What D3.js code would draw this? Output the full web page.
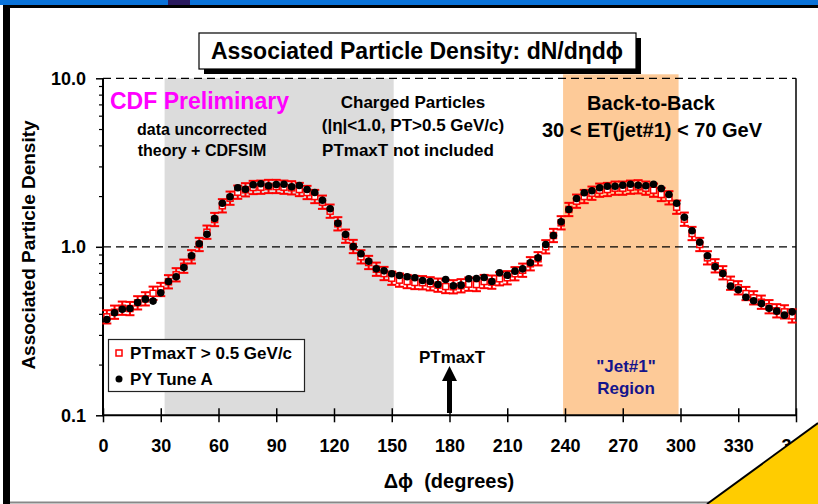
<!DOCTYPE html>
<html><head><meta charset="utf-8">
<script src="https://cdn.jsdelivr.net/npm/d3@7"></script>
<style>
body{margin:0;background:#fff}
svg{display:block}
text{font-family:"Liberation Sans",Arial,Helvetica,sans-serif;font-weight:bold}
</style>
</head><body>
<svg id="c" width="818" height="504"></svg>
<script>
// ---- data ----
const dphi = [2,6,10,14,18,22,26,30,34,38,42,46,50,54,58,62,66,70,74,78,
  82,86,90,94,98,102,106,110,114,118,122,126,130,134,138,142,146,150,154,158,
  162,166,170,174,178,182,186,190,194,198,202,206,210,214,218,222,226,230,234,238,
  242,246,250,254,258,262,266,270,274,278,282,286,290,294,298,302,306,310,314,318,
  322,326,330,334,338,342,346,350,354,358];
const dataVals = [0.384,0.409,0.432,0.430,0.465,0.491,0.530,0.558,0.620,0.682,
  0.767,0.872,1.032,1.221,1.452,1.751,1.943,2.109,2.179,2.249,
  2.258,2.280,2.280,2.258,2.239,2.188,2.100,1.988,1.839,1.627,
  1.369,1.156,1.004,0.872,0.807,0.736,0.694,0.651,0.634,0.622,
  0.614,0.612,0.603,0.592,0.581,0.579,0.587,0.600,0.597,0.622,
  0.617,0.646,0.655,0.692,0.726,0.793,0.849,1.000,1.167,1.388,
  1.665,1.865,1.988,2.080,2.167,2.188,2.228,2.228,2.258,2.270,
  2.228,2.167,2.044,1.953,1.718,1.458,1.199,1.032,0.860,0.771,
  0.701,0.608,0.571,0.528,0.498,0.469,0.441,0.417,0.411,0.389];
const pyVals = [0.370,0.406,0.426,0.430,0.467,0.489,0.476,0.533,0.622,0.664,
  0.754,0.884,1.042,1.188,1.472,1.815,1.980,2.239,2.197,2.333,
  2.365,2.301,2.343,2.353,2.270,2.311,2.188,2.100,1.890,1.681,
  1.380,1.183,1.004,0.909,0.821,0.740,0.720,0.692,0.676,0.664,
  0.655,0.631,0.622,0.597,0.640,0.587,0.592,0.646,0.648,0.657,
  0.622,0.701,0.678,0.717,0.740,0.804,0.860,1.032,1.167,1.407,
  1.665,1.934,2.092,2.149,2.239,2.289,2.289,2.320,2.353,2.320,
  2.301,2.353,2.218,2.044,1.815,1.498,1.245,1.065,0.884,0.761,
  0.694,0.584,0.556,0.502,0.478,0.461,0.432,0.415,0.393,0.411];
const errFactor = 1.095;   // multiplicative error on data points
const xTicks = [0,30,60,90,120,150,180,210,240,270,300,330,360];
const yMajor = [0.1,1,10];
const yMajorLabels = ["0.1","1.0","10.0"];
const yMinor = [0.2,0.3,0.4,0.5,0.6,0.7,0.8,0.9,2,3,4,5,6,7,8,9];
const bands = [{from:32,to:151,color:"#dcdcdc"},{from:239,to:299,color:"#fdca98"}];
const gridVals = [1,10];
const seriesNames = ["PTmaxT > 0.5 GeV/c","PY Tune A"];

// ---- layout ----
const svg = d3.select("#c");
const L=103, R=796, T=78.3, B=415.3;
const x = d3.scaleLinear().domain([0,360]).range([L,R]);
const y = d3.scaleLog().domain([0.1,10]).range([B,T]);
const F = "'Liberation Sans',Arial,sans-serif";

// frame decorations
svg.append("rect").attr("x",0).attr("y",0).attr("width",818).attr("height",5).attr("fill","#0a72d8");
svg.append("rect").attr("x",168).attr("y",0).attr("width",22).attr("height",5).attr("fill","#2a1a5e");
svg.append("rect").attr("x",3).attr("y",5).attr("width",815).attr("height",3).attr("fill","#000");
svg.append("rect").attr("x",3).attr("y",5).attr("width",7).attr("height",499).attr("fill","#000");
svg.append("line").attr("x1",10).attr("x2",818).attr("y1",502.5).attr("y2",502.5).attr("stroke","#888").attr("stroke-width",2);

// bands
bands.forEach((b,i)=>{
  svg.append("rect").attr("x",x(b.from)).attr("width",x(b.to)-x(b.from))
    .attr("y", i===1 ? T-4 : T).attr("height", B-(i===1 ? T-4 : T)).attr("fill",b.color);
});

// dashed gridlines
gridVals.forEach(v=>{
  svg.append("line").attr("x1",L).attr("x2",R).attr("y1",y(v)).attr("y2",y(v))
    .attr("stroke","#000").attr("stroke-width",1.2).attr("stroke-dasharray","8,5");
});

// axes
const xAxis = svg.append("g").attr("transform",`translate(0,${B})`)
  .call(d3.axisBottom(x).tickValues(xTicks).tickSizeInner(7).tickSizeOuter(0).tickPadding(0));
xAxis.select(".domain").remove();
xAxis.selectAll(".tick line").attr("y1",-7).attr("y2",7).attr("stroke","#000").attr("stroke-width",1.5);
xAxis.selectAll(".tick text").attr("y",30).attr("dy","0.36em").attr("font-size",18)
  .attr("font-family",F).attr("font-weight","bold").attr("fill","#000");

const yAxis = svg.append("g").attr("transform",`translate(${L},0)`)
  .call(d3.axisLeft(y).tickValues(yMajor).tickSizeInner(7).tickSizeOuter(0).tickPadding(10)
    .tickFormat((d,i)=>yMajorLabels[i]));
yAxis.select(".domain").remove();
yAxis.selectAll(".tick line").attr("stroke","#000").attr("stroke-width",1.5);
yAxis.selectAll(".tick text").attr("font-size",18).attr("font-family",F).attr("font-weight","bold").attr("fill","#000");
const yMin = svg.append("g").attr("transform",`translate(${L},0)`)
  .call(d3.axisLeft(y).tickValues(yMinor).tickSizeInner(4).tickSizeOuter(0).tickFormat(""));
yMin.select(".domain").remove();
yMin.selectAll(".tick line").attr("stroke","#000").attr("stroke-width",1.2);

// plot border lines
svg.append("line").attr("x1",L).attr("x2",L).attr("y1",T).attr("y2",B+1).attr("stroke","#000").attr("stroke-width",2);
svg.append("line").attr("x1",L).attr("x2",R).attr("y1",B).attr("y2",B).attr("stroke","#000").attr("stroke-width",2);
svg.append("line").attr("x1",R).attr("x2",R).attr("y1",T).attr("y2",B).attr("stroke","#000").attr("stroke-width",1.5);

// data: error bars + open squares
const g1 = svg.append("g");
dphi.forEach((d,i)=>{
  const v = dataVals[i], cx = x(d);
  const y1 = y(v*errFactor), y2 = y(v/errFactor);
  g1.append("line").attr("x1",cx).attr("x2",cx).attr("y1",y1).attr("y2",y2).attr("stroke","#ff0000").attr("stroke-width",2);
  g1.append("line").attr("x1",cx-4.5).attr("x2",cx+4.5).attr("y1",y1).attr("y2",y1).attr("stroke","#ff0000").attr("stroke-width",2);
  g1.append("line").attr("x1",cx-4.5).attr("x2",cx+4.5).attr("y1",y2).attr("y2",y2).attr("stroke","#ff0000").attr("stroke-width",2);
});
dphi.forEach((d,i)=>{
  g1.append("rect").attr("x",x(d)-3).attr("y",y(dataVals[i])-3).attr("width",6).attr("height",6)
    .attr("fill","#fff").attr("stroke","#ff0000").attr("stroke-width",1.5);
});
// PY Tune A dots
svg.append("g").selectAll("circle").data(dphi).join("circle")
  .attr("cx",d=>x(d)).attr("cy",(d,i)=>y(pyVals[i])).attr("r",3.8).attr("fill","#000");

// title box
svg.append("rect").attr("x",204).attr("y",38).attr("width",437).attr("height",36).attr("fill","#000");
svg.append("rect").attr("x",199).attr("y",33).attr("width",437).attr("height",36).attr("fill","#fff").attr("stroke","#000").attr("stroke-width",1.2);
function txt(s,cx,cy,size,opts={}){
  return svg.append("text").attr("x",cx).attr("y",cy).attr("font-size",size)
    .attr("text-anchor",opts.anchor||"middle").attr("fill",opts.fill||"#000").text(s);
}
txt("Associated Particle Density: dN/dηdϕ",417,59,23);

// annotations
txt("CDF Preliminary",110,109,23,{anchor:"start",fill:"#ff00ff"});
txt("data uncorrected",202,135,16);
txt("theory + CDFSIM",202,156,16);
txt("Charged Particles",413,108,17);
txt("(|η|<1.0, PT>0.5 GeV/c)",413,131,17);
txt("PTmaxT not included",408,156,17);
txt("Back-to-Back",651,110,20);
txt("30 < ET(jet#1) < 70 GeV",652,137,20);
txt("PTmaxT",452,363,17);
txt("\"Jet#1\"",626,372,17,{fill:"#14148c"});
txt("Region",626,394,17,{fill:"#14148c"});

// arrow at 180
const ax = x(180);
svg.append("polygon").attr("points",[
  [ax,366],[ax+7.5,381],[ax+2.5,381],[ax+2.5,413],[ax-2.5,413],[ax-2.5,381],[ax-7.5,381]
].map(p=>p.join(",")).join(" ")).attr("fill","#000");

// legend
svg.append("rect").attr("x",108.5).attr("y",339.5).attr("width",196).attr("height",52).attr("fill","#fff").attr("stroke","#222").attr("stroke-width",1.2);
svg.append("rect").attr("x",116).attr("y",350).attr("width",6).attr("height",6).attr("fill","#fff").attr("stroke","#ff0000").attr("stroke-width",1.5);
svg.append("circle").attr("cx",119).attr("cy",379).attr("r",3.5).attr("fill","#000");
txt(seriesNames[0],130,359,17,{anchor:"start"});
txt(seriesNames[1],130,385,17,{anchor:"start"});

// axis titles
txt("Δϕ  (degrees)",449,488,20).attr("xml:space","preserve").style("white-space","pre");
svg.append("text").attr("transform","translate(35,245) rotate(-90)").attr("text-anchor","middle")
  .attr("font-size",19).attr("fill","#000").text("Associated Particle Density");

// yellow corner
svg.append("polygon").attr("points","707,504 818,423 818,504").attr("fill","#ffcc00");
svg.append("line").attr("x1",707).attr("y1",504).attr("x2",818).attr("y2",423).attr("stroke","#000").attr("stroke-width",2);
</script>
</body></html>
